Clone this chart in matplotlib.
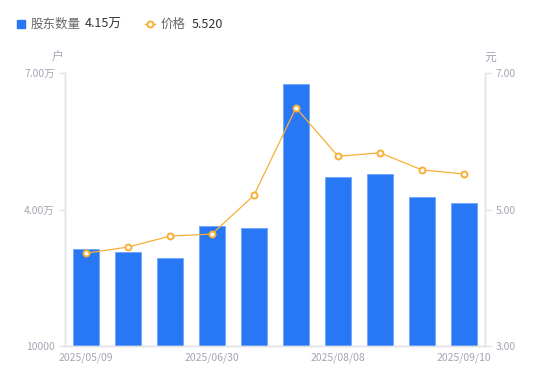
import matplotlib
matplotlib.use("Agg")
import matplotlib.pyplot as plt
import numpy as np

plt.rcParams['font.family'] = ['Noto Sans CJK SC', 'DejaVu Sans']

dates = ["2025/05/09", "2025/05/30", "2025/06/10", "2025/06/30", "2025/07/10",
         "2025/07/31", "2025/08/08", "2025/08/20", "2025/08/29", "2025/09/10"]
holders = [3.13, 3.07, 2.93, 3.64, 3.59, 6.76, 4.71, 4.78, 4.27, 4.15]  # 万户
price = [4.36, 4.45, 4.61, 4.64, 5.21, 6.49, 5.78, 5.83, 5.58, 5.52]
left_ticks = [1, 4, 7]
left_labels = ["10000", "4.00万", "7.00万"]
right_ticks = [3, 5, 7]
right_labels = ["3.00", "5.00", "7.00"]

blue = "#2878f5"
orange = "#f7b035"
axis_c = "#e3e4e8"
lab_c = "#a3a6b4"

fig = plt.figure(figsize=(5.5, 3.81), dpi=100)
ax = fig.add_axes([65/550, 35/381, 420/550, 273/381])
x = np.arange(len(dates))
ax.bar(x, holders, width=0.6, color=blue, edgecolor="#6fa5f8", linewidth=0.6, zorder=2)
ax.set_xlim(-0.5, len(dates) - 0.5)
ax.set_ylim(1, 7)
ax.set_yticks(left_ticks)
ax.set_yticklabels(left_labels)
ax.set_xticks(x[::3])
ax.set_xticklabels([dates[i] for i in range(0, len(dates), 3)])

ax2 = ax.twinx()
ax2.plot(x, price, color=orange, linewidth=0.9, marker="o", markersize=4.3,
         markerfacecolor="white", markeredgecolor=orange, markeredgewidth=1.4, zorder=3)
ax2.set_ylim(3, 7)
ax2.set_yticks(right_ticks)
ax2.set_yticklabels(right_labels)

for a in (ax, ax2):
    for s in a.spines.values():
        s.set_color(axis_c)
        s.set_linewidth(1)
    a.spines['top'].set_visible(False)
    a.tick_params(axis='both', colors=axis_c, labelcolor=lab_c, labelsize=7.5, length=4, width=1)
ax.tick_params(axis='x', length=0, pad=5)
ax2.tick_params(axis='x', length=0)

fig.text(57/550, 1 - 57/381, "户", color=lab_c, fontsize=8.5, ha='center', va='center')
fig.text(490/550, 1 - 57/381, "元", color=lab_c, fontsize=8.5, ha='center', va='center')

# legend
ly = 1 - 24/381
fig.patches.append(plt.Rectangle((17/550, 1 - 28/381), 8/550, 8/381, transform=fig.transFigure,
                                 color=blue, figure=fig))
fig.text(31/550, ly, "股东数量", color="#666666", fontsize=9, va='center')
fig.text(85/550, ly, "4.15万", color="#333333", fontsize=9, va='center')
fig.lines.append(plt.Line2D([145/550, 150/550, 155/550], [ly, ly, ly], transform=fig.transFigure,
                            color=orange, linewidth=1, marker="o", markersize=4.3, markevery=[1],
                            markerfacecolor="white", markeredgecolor=orange, markeredgewidth=1.4))
fig.text(161/550, ly, "价格", color="#666666", fontsize=9, va='center')
fig.text(192/550, ly, "5.520", color="#333333", fontsize=9, va='center')

fig.savefig("out.png", dpi=100)
